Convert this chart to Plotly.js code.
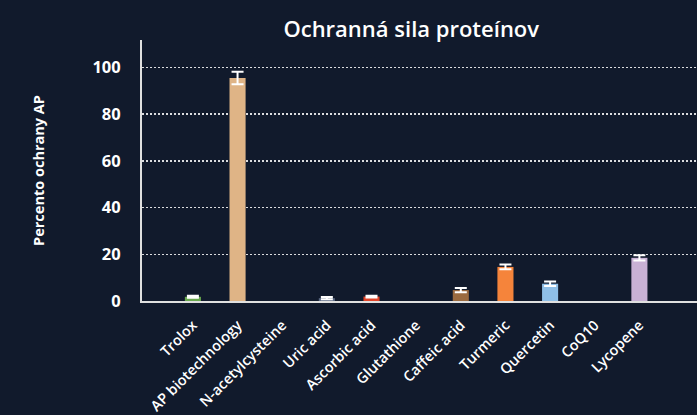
<!DOCTYPE html>
<html>
<head>
<meta charset="utf-8">
<script src="https://cdn.plot.ly/plotly-3.0.1.min.js"></script>
<style>
html,body{margin:0;padding:0;background:#111a2c;}
#chart{width:697px;height:415px;}
</style>
</head>
<body>
<div id="chart"></div>
<script>
const categories = ["Trolox","AP biotechnology","N-acetylcysteine","Uric acid","Ascorbic acid","Glutathione","Caffeic acid","Turmeric","Quercetin","CoQ10","Lycopene"];
const values = [1.8, 95.5, null, 1.2, 1.9, null, 4.7, 14.6, 7.4, null, 18.5];
const errors = [0.4, 2.7, null, 0.5, 0.4, null, 0.9, 1.0, 1.0, null, 1.1];
const colors = ["#69a84f","#dfb486","#dfb486","#5d6a85","#e0442a","#888888","#9a6a3f","#f5843b","#8fbfe7","#888888","#c9b1d5"];
const yTicks = [0,20,40,60,80,100];

const trace = {
  type: "bar",
  x: categories,
  y: values,
  marker: {color: colors, line: {width: 0}},
  error_y: {type: "data", array: errors, visible: true, color: "#ffffff", thickness: 2, width: 6},
  hoverinfo: "none"
};

const layout = {
  width: 697, height: 415,
  paper_bgcolor: "#111a2c",
  plot_bgcolor: "#111a2c",
  margin: {l: 142, r: 0, t: 40, b: 114},
  bargap: 0.64,
  showlegend: false,
  font: {family: "Open Sans, sans-serif", color: "#ffffff"},
  title: {text: "Ochranná sila proteínov", font: {size: 22, color: "#ffffff", family: "Open Sans, sans-serif", weight: 600}, x: 0.59, xanchor: "center", y: 0.93, yanchor: "middle"},
  xaxis: {
    type: "category",
    range: [-1.14, 11.29],
    tickangle: -45,
    tickfont: {size: 14.5, color: "#ffffff", family: "Open Sans, sans-serif", weight: 600},
    showgrid: false,
    zeroline: false,
    showline: true, linecolor: "#e0e0e0", linewidth: 2,
    ticks: "outside", ticklen: 8, tickcolor: "rgba(0,0,0,0)"
  },
  yaxis: {
    range: [0, 111.8],
    tickvals: yTicks,
    ticktext: yTicks.map(String),
    tickfont: {size: 16.5, color: "#ffffff", family: "Open Sans, sans-serif", weight: 700},
    showgrid: true, gridcolor: "rgba(255,255,255,0.85)", griddash: "2px,2px", gridwidth: 1.5,
    zeroline: false,
    showline: true, linecolor: "#e0e0e0", linewidth: 2,
    ticks: "outside", ticklen: 16, tickcolor: "rgba(0,0,0,0)",
    title: {text: "Percento ochrany AP", font: {size: 14.5, color: "#ffffff", family: "Open Sans, sans-serif", weight: 700}, standoff: 44}
  }
};

Plotly.newPlot("chart", [trace], layout, {displayModeBar: false, staticPlot: true});
</script>
</body>
</html>
